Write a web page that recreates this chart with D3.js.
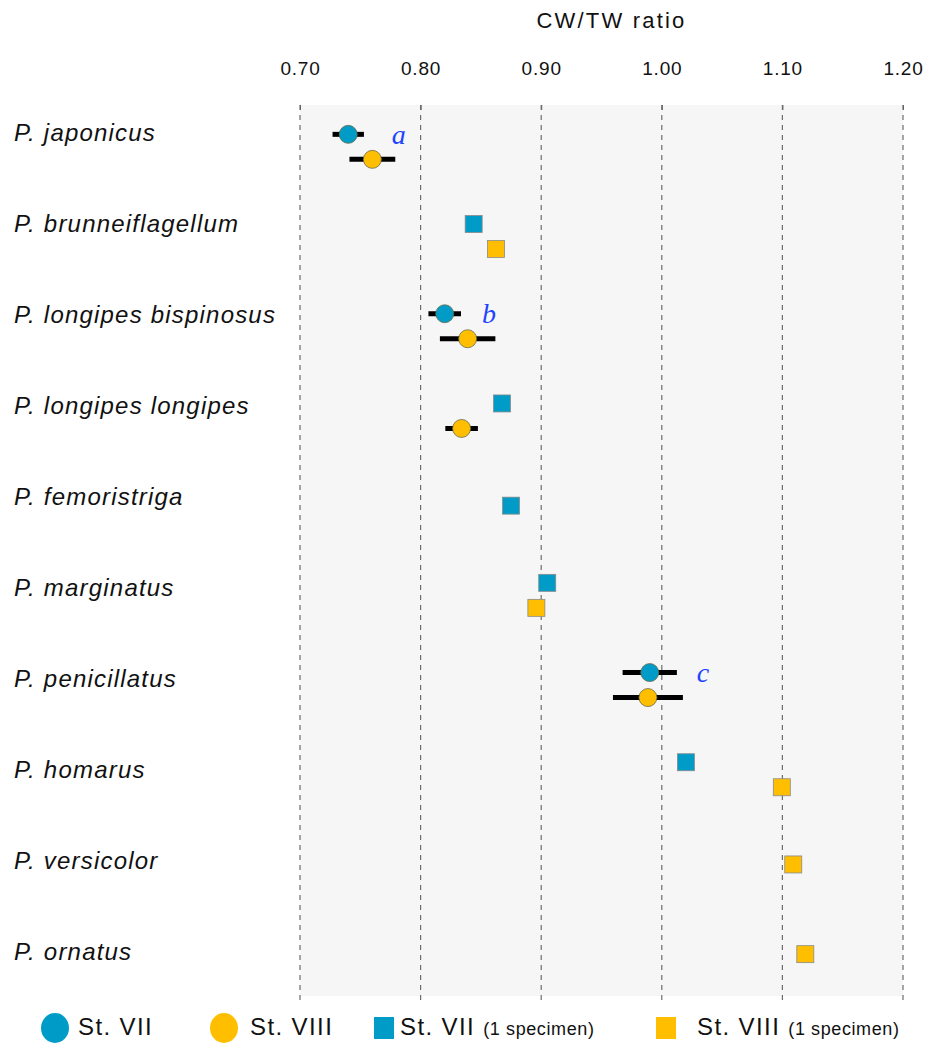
<!DOCTYPE html>
<html>
<head>
  <meta charset="utf-8">
  <title>CW/TW ratio</title>
  <script src="https://d3js.org/d3.v7.min.js"></script>
  <style>
    body { margin: 0; background: #fff; }
    svg { display: block; font-family: "Liberation Sans", Arial, sans-serif; }
  </style>
</head>
<body>
<div id="chart"></div>
<script>
  // species, top to bottom
  const species = [
    "P. japonicus", "P. brunneiflagellum", "P. longipes bispinosus",
    "P. longipes longipes", "P. femoristriga", "P. marginatus",
    "P. penicillatus", "P. homarus", "P. versicolor", "P. ornatus"
  ];

  // mean ratio per stage (null = no data), and error half-width (null = single specimen)
  const st7Mean = [0.740, 0.844, 0.820, 0.8675, 0.875, 0.905, 0.990, 1.020, null, null];
  const st7Err  = [0.013, null, 0.0135, null, null, null, 0.0225, null, null, null];
  const st8Mean = [0.760, 0.8625, 0.839, 0.834, null, 0.896, 0.9885, 1.0995, 1.109, 1.119];
  const st8Err  = [0.019, null, 0.023, 0.0135, null, null, 0.029, null, null, null];

  // significance letters
  const letterRows = ["P. japonicus", "P. longipes bispinosus", "P. penicillatus"];
  const letterText = ["a", "b", "c"];
  const letterValue = [0.776, 0.851, 1.029];

  const tickValues = [0.70, 0.80, 0.90, 1.00, 1.10, 1.20];

  const width = 925, height = 1043;
  const blue = "#009cc7", yellow = "#ffbf00";

  const svg = d3.select("#chart").append("svg")
    .attr("width", width).attr("height", height);

  const x = d3.scaleLinear().domain([0.70, 1.20]).range([300, 903]);
  const y = d3.scaleBand().domain(species).range([102, 999]);
  const labelY = d3.scalePoint().domain(species).range([133, 952]);

  // plot background
  svg.append("rect")
    .attr("x", x(0.70)).attr("y", 105)
    .attr("width", x(1.20) - x(0.70)).attr("height", 996 - 105)
    .attr("fill", "#f6f6f6");

  // axis on top (ticks + labels)
  const axis = d3.axisTop(x).tickValues(tickValues).tickFormat(d3.format(".2f")).tickSize(5);
  const ag = svg.append("g").attr("transform", "translate(0,110)").call(axis);
  ag.select(".domain").remove();
  ag.selectAll(".tick line").attr("stroke", "#555");
  ag.selectAll(".tick text")
    .attr("y", -35)
    .attr("font-size", 19)
    .attr("letter-spacing", 0.8)
    .attr("font-family", "Liberation Sans, Arial, sans-serif")
    .attr("fill", "#111");

  // dashed gridlines
  svg.append("g").selectAll("line")
    .data(tickValues).join("line")
    .attr("x1", d => x(d)).attr("x2", d => x(d))
    .attr("y1", 105).attr("y2", 1001)
    .attr("stroke", "#6d6d6d").attr("stroke-width", 1.2)
    .attr("stroke-dasharray", "5,5");

  svg.append("text")
    .attr("x", (x(0.70) + x(1.20)) / 2 + 10).attr("y", 28)
    .attr("text-anchor", "middle")
    .attr("font-size", 22).attr("letter-spacing", 2.2)
    .attr("fill", "#111")
    .text("CW/TW ratio");

  // species labels
  svg.append("g").selectAll("text")
    .data(species).join("text")
    .attr("x", 14).attr("y", d => labelY(d))
    .attr("dy", "0.35em")
    .attr("font-size", 24).attr("font-style", "italic")
    .attr("letter-spacing", 1.2)
    .attr("fill", "#111")
    .text(d => d);

  // build point records
  const points = [];
  species.forEach((s, i) => {
    const both = st7Mean[i] != null && st8Mean[i] != null;
    const c = y(s) + y.bandwidth() / 2;
    if (st7Mean[i] != null) points.push({ s, v: st7Mean[i], e: st7Err[i], color: blue, cy: both ? c - 12.5 : c });
    if (st8Mean[i] != null) points.push({ s, v: st8Mean[i], e: st8Err[i], color: yellow, cy: both ? c + 12.5 : c });
  });

  const g = svg.append("g");

  // error bars
  g.selectAll("line.err")
    .data(points.filter(p => p.e != null)).join("line")
    .attr("class", "err")
    .attr("x1", d => x(d.v - d.e)).attr("x2", d => x(d.v + d.e))
    .attr("y1", d => d.cy).attr("y2", d => d.cy)
    .attr("stroke", "#000").attr("stroke-width", 5);

  // means (circles)
  g.selectAll("circle")
    .data(points.filter(p => p.e != null)).join("circle")
    .attr("cx", d => x(d.v)).attr("cy", d => d.cy).attr("r", 9)
    .attr("fill", d => d.color)
    .attr("stroke", "#6b6b4a").attr("stroke-width", 0.8);

  // single specimens (squares)
  g.selectAll("rect")
    .data(points.filter(p => p.e == null)).join("rect")
    .attr("x", d => x(d.v) - 8.5).attr("y", d => d.cy - 8.5)
    .attr("width", 17).attr("height", 17)
    .attr("fill", d => d.color)
    .attr("stroke", "#8a8a8a").attr("stroke-width", 0.8);

  // letters
  svg.append("g").selectAll("text")
    .data(letterRows).join("text")
    .attr("x", (d, i) => x(letterValue[i]))
    .attr("y", (d, i) => y(d) + y.bandwidth() / 2 - 3)
    .attr("font-family", "Liberation Serif, Times New Roman, serif")
    .attr("font-style", "italic").attr("font-size", 28)
    .attr("fill", "#1f44ff")
    .text((d, i) => letterText[i]);

  // legend
  const leg = svg.append("g").attr("transform", "translate(0,1027)");
  const legText = (x0, label) => {
    const t = leg.append("text").attr("x", x0).attr("y", 0).attr("dy", "0.35em")
      .attr("font-size", 24).attr("letter-spacing", 1.4).attr("fill", "#111");
    t.append("tspan").text(label);
    return t;
  };
  leg.append("ellipse").attr("cx", 55).attr("cy", 1).attr("rx", 14).attr("ry", 15).attr("fill", blue);
  legText(78, "St. VII");
  leg.append("ellipse").attr("cx", 224).attr("cy", 1).attr("rx", 14).attr("ry", 15).attr("fill", yellow);
  legText(250, "St. VIII");
  leg.append("rect").attr("x", 374).attr("y", -10).attr("width", 20).attr("height", 22).attr("fill", blue);
  legText(400, "St. VII ").append("tspan").attr("font-size", 18).attr("letter-spacing", 0.6).text("(1 specimen)");
  leg.append("rect").attr("x", 656).attr("y", -10).attr("width", 20).attr("height", 22).attr("fill", yellow);
  legText(697, "St. VIII ").append("tspan").attr("font-size", 18).attr("letter-spacing", 0.6).text("(1 specimen)");
</script>
</body>
</html>
